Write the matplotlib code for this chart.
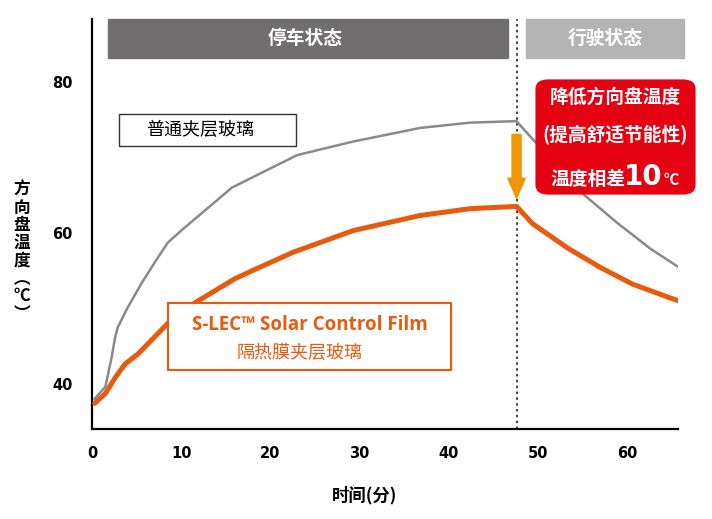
import matplotlib
matplotlib.use("Agg")
import matplotlib.pyplot as plt
from matplotlib.patches import FancyBboxPatch, Rectangle, FancyArrowPatch

plt.rcParams['font.family'] = ['Noto Sans CJK SC', 'DejaVu Sans']

# ---------------- data ----------------
gray_t = [0.3, 1.5, 2.2, 2.6, 2.9, 4.0, 5.6, 7.1, 8.5, 10.1, 14.3, 15.7, 23.0, 29.3, 36.8, 42.4, 47.6,
          48.8, 55.0, 58.9, 62.6, 65.7]
gray_T = [38.0, 39.6, 43.5, 46.2, 47.5, 50.1, 53.4, 56.2, 58.7, 60.4, 64.6, 66.0, 70.3, 72.1, 73.9, 74.6, 74.8,
          73.2, 65.2, 61.3, 57.9, 55.5]

orange_t = [0.3, 1.5, 2.6, 3.7, 5.2, 8.5, 11.5, 16.0, 18.0, 22.5, 29.3, 36.8, 42.4, 47.6,
            49.4, 53.3, 57.0, 60.6, 65.7]
orange_T = [37.4, 38.7, 40.8, 42.6, 44.0, 48.0, 50.7, 53.9, 55.0, 57.4, 60.3, 62.3, 63.2, 63.5,
            61.2, 58.0, 55.4, 53.2, 51.0]

x_ticks = [0, 10, 20, 30, 40, 50, 60]
y_ticks = [40, 60, 80]
switch_t = 47.6

label_gray = "普通夹层玻璃"
label_orange_en = "S-LEC™ Solar Control Film"
label_orange_cn = "隔热膜夹层玻璃"
phase_park = "停车状态"
phase_drive = "行驶状态"
xlabel = "时间(分)"
ylabel = "方向盘温度︵℃︶"

GRAY = "#8a8a8a"
ORANGE = "#e85a0e"
RED = "#e50012"
ARROW = "#f29600"

W, H = 712, 519
fig = plt.figure(figsize=(W / 100, H / 100), dpi=100)

def fx(x):
    return x / W

def fy(y):
    return 1 - y / H

ax = fig.add_axes([fx(92), fy(429), fx(678) - fx(92), fy(18.5) - fy(429)])
ax.set_xlim(0, 65.7)
ax.set_ylim(34.0, 88.4)

ax.plot(gray_t, gray_T, color=GRAY, lw=1.8, solid_joinstyle='round', zorder=3)
ax.plot(orange_t, orange_T, color=ORANGE, lw=3.6, solid_capstyle='round', solid_joinstyle='round', zorder=4)

for s in ['top', 'right']:
    ax.spines[s].set_visible(False)
for s in ['left', 'bottom']:
    ax.spines[s].set_linewidth(1.6)
    ax.spines[s].set_color('black')

ax.set_xticks(x_ticks)
ax.set_yticks(y_ticks)
ax.set_xticklabels([str(v) for v in x_ticks], fontsize=10.5, fontweight='bold', family=['DejaVu Sans'])
ax.set_yticklabels([str(v) for v in y_ticks], fontsize=10.5, fontweight='bold', family=['DejaVu Sans'])
ax.tick_params(length=0, pad=12)
ax.tick_params(axis='y', pad=14)

# dotted separator
ax.axvline(switch_t, color='#222222', lw=1.2, ls=(0, (1.5, 2.0)), zorder=2)

# phase header bars (figure px)
fig.patches.append(Rectangle((fx(108), fy(58)), fx(508) - fx(108), fy(19) - fy(58),
                             transform=fig.transFigure, color='#706e6f', zorder=1))
fig.patches.append(Rectangle((fx(526), fy(58)), fx(684) - fx(526), fy(19) - fy(58),
                             transform=fig.transFigure, color='#b4b4b4', zorder=1))
fig.text(fx(305), fy(38), phase_park, color='white', fontsize=13.5, fontweight='bold', ha='center', va='center')
fig.text(fx(605), fy(38), phase_drive, color='white', fontsize=13.5, fontweight='bold', ha='center', va='center')

# label boxes
fig.patches.append(Rectangle((fx(119), fy(146)), fx(296) - fx(119), fy(114) - fy(146),
                             transform=fig.transFigure, fill=False, ec='#333333', lw=1.0, zorder=5))
fig.text(fx(200), fy(130), label_gray, color='black', fontsize=13, ha='center', va='center')

fig.patches.append(Rectangle((fx(168), fy(370)), fx(451) - fx(168), fy(303) - fy(370),
                             transform=fig.transFigure, fc='white', ec=ORANGE, lw=1.5, zorder=5))
fig.text(fx(310), fy(325), label_orange_en, color=ORANGE, fontsize=13.5, fontweight='bold',
         ha='center', va='center', family=['Open Sans', 'DejaVu Sans'], zorder=6)
fig.text(fx(300), fy(353), label_orange_cn, color=ORANGE, fontsize=13, ha='center', va='center', zorder=6)

# red callout box
fig.patches.append(FancyBboxPatch((fx(539), fy(192)), fx(692) - fx(539), fy(82) - fy(192),
                                  boxstyle="round,pad=0.005,rounding_size=0.018",
                                  transform=fig.transFigure, fc=RED, ec='none', zorder=6))
fig.text(fx(615), fy(97), "降低方向盘温度", color='white', fontsize=13.5, fontweight='bold',
         ha='center', va='center', zorder=7)
fig.text(fx(615), fy(134), "(提高舒适节能性)", color='white', fontsize=13.5, fontweight='bold',
         ha='center', va='center', zorder=7)
fig.text(fx(625), fy(185), "温度相差", color='white', fontsize=13.5, fontweight='bold',
         ha='right', va='baseline', zorder=7)
fig.text(fx(624), fy(185), "10", color='white', fontsize=20, fontweight='bold',
         ha='left', va='baseline', family=['DejaVu Sans'], zorder=7)
fig.text(fx(664), fy(185), "℃", color='white', fontsize=11, fontweight='bold',
         ha='left', va='baseline', zorder=7)

# orange arrow
arr = FancyArrowPatch((switch_t, 73.4), (switch_t, 64.2),
                      arrowstyle="simple,head_length=1.45,head_width=1.25,tail_width=0.65",
                      mutation_scale=10, color=ARROW, zorder=6)
ax.add_patch(arr)

# axis labels
fig.text(fx(365), fy(495), xlabel, fontsize=12.5, fontweight='bold', ha='center', va='center')
fig.text(fx(22), fy(252), "\n".join(ylabel), fontsize=12, fontweight='bold', ha='center', va='center',
         linespacing=0.98)

fig.savefig("out.png", dpi=100)
